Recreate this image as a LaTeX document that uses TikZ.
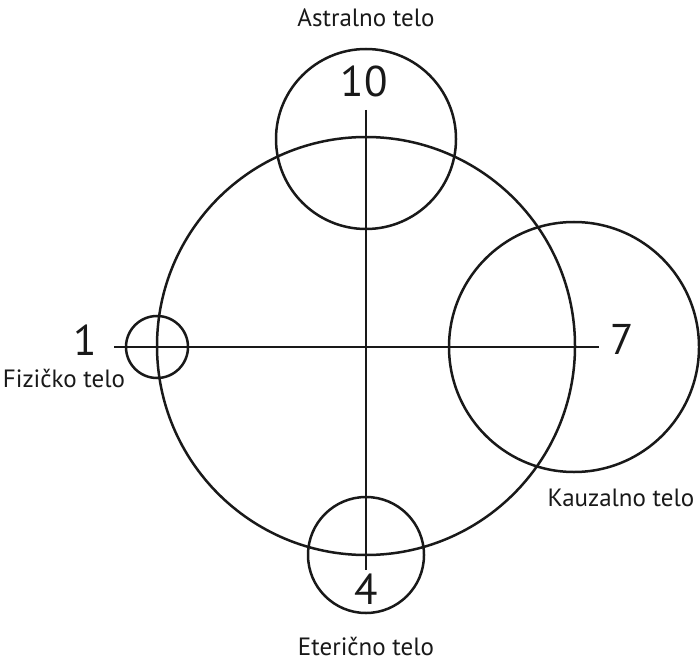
\documentclass[tikz,border=0pt]{standalone}
\usepackage{fontspec}
\setmainfont{PT Sans}
\begin{document}
\begin{tikzpicture}[x=1pt,y=1pt,
  ring/.style={draw=black!90, line width=2.5pt, circle, inner sep=0pt},
  axis/.style={draw=black!90, line width=2.5pt},
  num/.style={font=\fontsize{43}{43}\selectfont, text=black!90, inner sep=0pt, anchor=base},
  lbl/.style={font=\fontsize{25}{25}\selectfont, text=black!90, inner sep=0pt, anchor=base}]
\useasboundingbox (0,0) rectangle (700,662);
% main circle center (366,346) r=209 (y flipped: 662-346=316)
\node[ring, minimum size=418pt] (main) at (366,316) {};
\node[ring, minimum size=180pt] (top) at (366,523) {};
\node[ring, minimum size=62pt] (left) at (157,315) {};
\node[ring, minimum size=250pt] (right) at (574,315) {};
\node[ring, minimum size=116pt] (bottom) at (366,107) {};
\coordinate (vtop) at (366,552);
\coordinate (vbot) at (366,92);
\coordinate (hleft) at (114,315);
\coordinate (hright) at (599,315);
\draw[axis] (vtop) -- (vbot);
\draw[axis] (hleft) -- (hright);
\node[num] (n10) at (364,565) {10};
\node[num] (n1) at (85,307) {1};
\node[num] (n7) at (622,308) {7};
\node[num] (n4) at (366,58) {4};
\node[lbl] (astral) at (366,635) {Astralno telo};
\node[lbl] (fiz) at (64,275) {Fizičko telo};
\node[lbl] (kauz) at (621,156) {Kauzalno telo};
\node[lbl] (eter) at (366,7) {Eterično telo};
\end{tikzpicture}
\end{document}
